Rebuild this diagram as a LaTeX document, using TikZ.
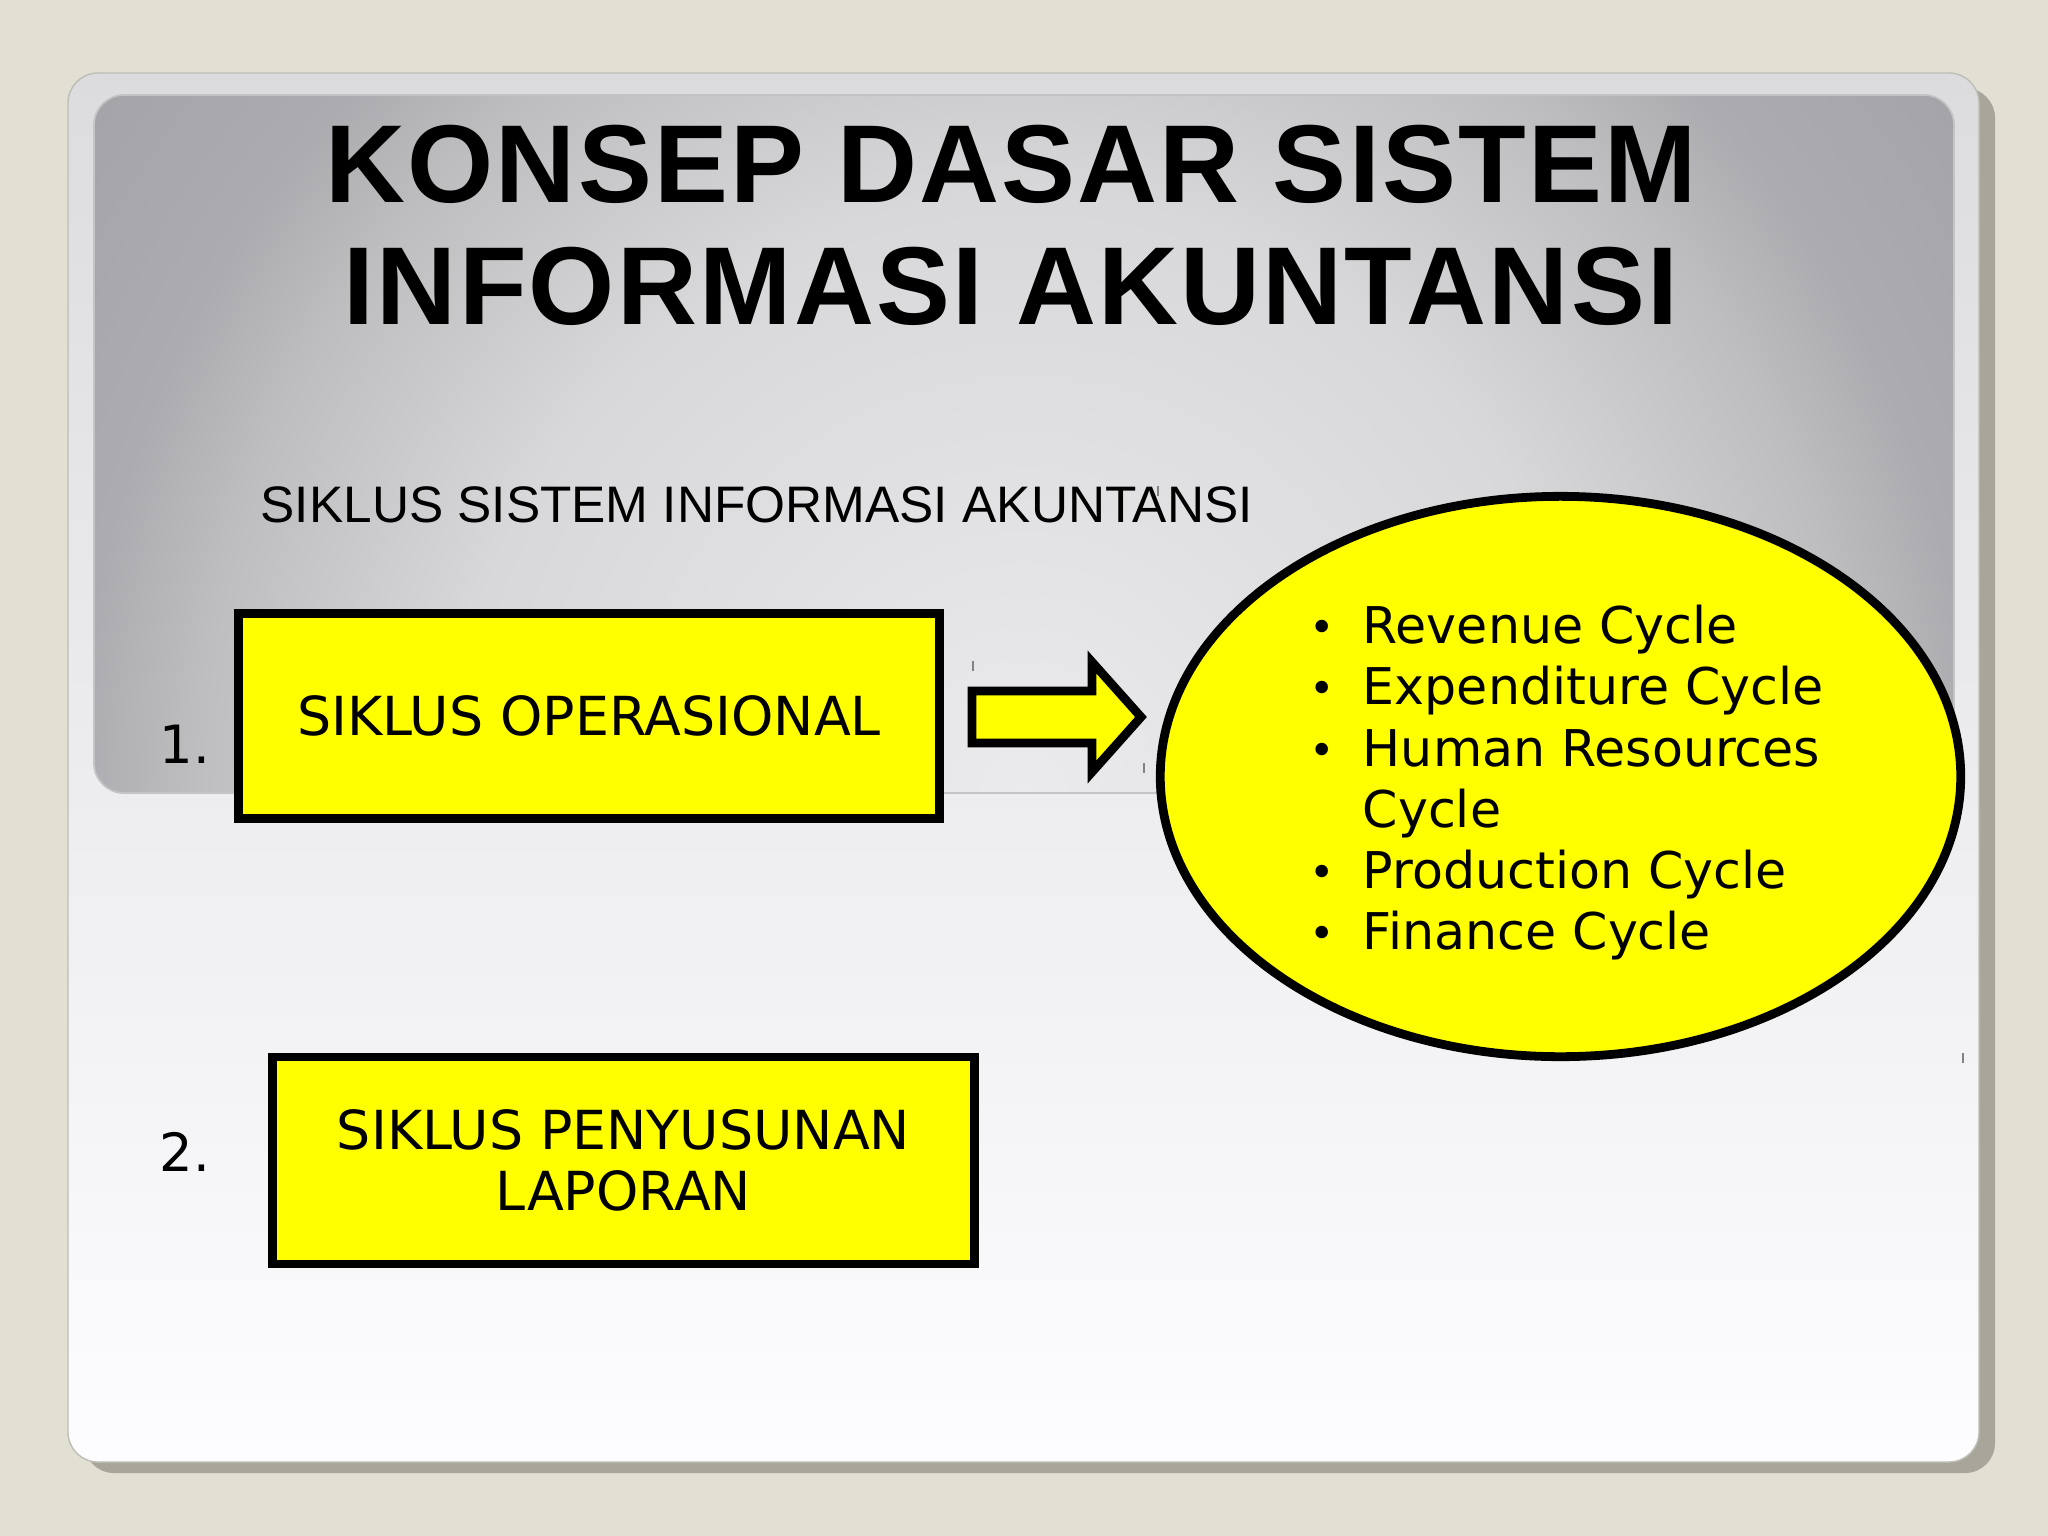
\documentclass[tikz,border=0pt]{standalone}
\usepackage{fontspec}
\setmainfont{Liberation Sans}
\newfontfamily\dvfont{DejaVu Sans}
\newfontfamily\titlefont[LetterSpace=2.0]{Liberation Sans Bold}
\usetikzlibrary{shapes.geometric}
\definecolor{bgbeige}{RGB}{226,223,211}
\definecolor{shadowc}{RGB}{168,166,154}
\definecolor{cardtop}{RGB}{220,220,222}
\definecolor{cardbot}{RGB}{253,252,254}
\definecolor{cardedge}{RGB}{190,189,182}
\definecolor{paneledge}{RGB}{196,196,198}
\definecolor{pA}{RGB}{235,235,237}
\definecolor{pB}{RGB}{216,216,218}
\definecolor{pC}{RGB}{190,190,192}
\definecolor{pD}{RGB}{172,171,175}
\definecolor{pE}{RGB}{165,164,168}
\definecolor{tickc}{RGB}{130,130,130}
\definecolor{boxyellow}{RGB}{255,255,0}
\pgfdeclareradialshading{panelsh}{\pgfpoint{0bp}{0bp}}{color(0bp)=(pA); color(12.1bp)=(pB); color(17.5bp)=(pC); color(20.1bp)=(pD); color(24.1bp)=(pE); color(50bp)=(pE)}
\begin{document}
\begin{tikzpicture}[x=0.01cm,y=-0.01cm,
  ybox/.style={draw=black, fill=boxyellow, line width=2.5pt, inner sep=0pt, align=center,
    font=\dvfont\fontsize{15.3}{17.4}\selectfont},
  numlbl/.style={anchor=base west, inner sep=0pt, font=\dvfont\fontsize{15}{18}\selectfont},
  titletxt/.style={anchor=base, inner sep=0pt, font=\titlefont\fontsize{31.5}{35}\selectfont},
  ticks/.style={draw=tickc, line width=0.5pt}]
% background
\fill[bgbeige] (0,0) rectangle (2048,1536);
\useasboundingbox (0,0) rectangle (2048,1536);
% card shadow and card
\fill[shadowc, rounded corners=8.5pt] (84,88) rectangle (1995,1473);
\shadedraw[top color=cardtop, bottom color=cardbot, draw=cardedge, line width=0.4pt, rounded corners=8.5pt] (68,73) rectangle (1979,1462);
% top panel
\fill[pE, rounded corners=8.5pt] (94,95) rectangle (1954,793);
\begin{scope}
  \clip[rounded corners=8.5pt] (94,95) rectangle (1954,793);
  \shade[shading=panelsh] (1024,800) ellipse (1180 and 1242);
\end{scope}
\draw[paneledge, line width=0.5pt, rounded corners=8.5pt] (94,95) rectangle (1954,793);
% title
\node[titletxt] (t1) at (1011,202) {KONSEP DASAR SISTEM};
\node[titletxt] (t2) at (1011,324) {INFORMASI AKUNTANSI};
\node[anchor=base west, inner sep=0pt, font=\fontsize{14.6}{17}\selectfont] (sub) at (260,522) {SIKLUS SISTEM INFORMASI AKUNTANSI};
% boxes
\node[ybox, minimum width=7cm, minimum height=2.05cm] (b1) at (589,716) {SIKLUS OPERASIONAL};
\node[ybox, minimum width=7.01cm, minimum height=2.07cm] (b2) at (623.5,1160.5) {SIKLUS PENYUSUNAN\\LAPORAN};
\node[numlbl] (n1) at (159,763) {1.};
\node[numlbl] (n2) at (159,1171) {2.};
% ellipse
\node[ellipse, draw=black, fill=boxyellow, line width=2.5pt, inner sep=0pt, minimum width=8cm, minimum height=5.6cm] (cyc) at (1560.5,776.5) {};
\node[anchor=north west, inner sep=0pt, align=left, font=\dvfont\fontsize{14.4}{17.41}\selectfont] (lst) at (1309,604.5)
 {\makebox[15.1pt][l]{\raisebox{0.3pt}{\scalebox{0.85}{•}}}Revenue Cycle\\
  \makebox[15.1pt][l]{\raisebox{0.3pt}{\scalebox{0.85}{•}}}Expenditure Cycle\\
  \makebox[15.1pt][l]{\raisebox{0.3pt}{\scalebox{0.85}{•}}}Human Resources\\
  \makebox[15.1pt][l]{}Cycle\\
  \makebox[15.1pt][l]{\raisebox{0.3pt}{\scalebox{0.85}{•}}}Production Cycle\\
  \makebox[15.1pt][l]{\raisebox{0.3pt}{\scalebox{0.85}{•}}}Finance Cycle};
% block arrow
\draw[line width=2.5pt, fill=boxyellow, line join=miter] (972,691) -- (1092,691) -- (1092,662) -- (1141,717) -- (1092,772) -- (1092,743) -- (972,743) -- cycle;
% small ticks
\draw[ticks] (973,661) -- (973,671);
\draw[ticks] (1144,763) -- (1144,773);
\draw[ticks] (1963,1053) -- (1963,1063);
\draw[ticks] (1158,486) -- (1158,496);
\end{tikzpicture}
\end{document}
